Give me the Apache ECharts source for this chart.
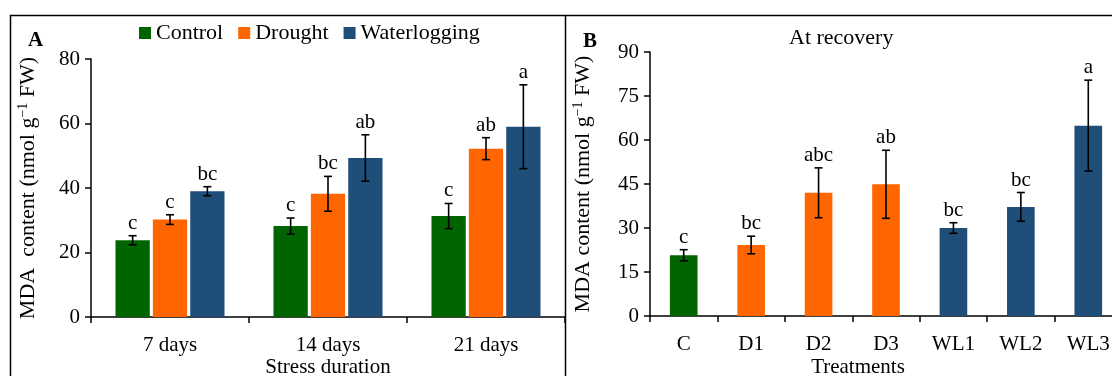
<!DOCTYPE html>
<html><head><meta charset="utf-8">
<script src="https://cdn.jsdelivr.net/npm/echarts@6/dist/echarts.min.js"></script>
<style>html,body{margin:0;padding:0;background:#fff}#c{width:1112px;height:376px}</style>
</head><body><div id="c"></div>
<script>
// ---- Panel A data ----
const durations = ['7 days', '14 days', '21 days'];
const controlVals = [23.8, 28.2, 31.3];
const controlErr = [1.4, 2.5, 3.9];
const controlLetters = ['c', 'c', 'c'];
const droughtVals = [30.2, 38.2, 52.2];
const droughtErr = [1.5, 5.4, 3.4];
const droughtLetters = ['c', 'bc', 'ab'];
const waterVals = [39.0, 49.3, 59.0];
const waterErr = [1.4, 7.2, 13.0];
const waterLetters = ['bc', 'ab', 'a'];
const yAxisA = { min: 0, max: 80, interval: 20 };

// ---- Panel B data ----
const treatments = ['C', 'D1', 'D2', 'D3', 'WL1', 'WL2', 'WL3'];
const treatmentGroups = ['Control', 'Drought', 'Drought', 'Drought', 'Waterlogging', 'Waterlogging', 'Waterlogging'];
const recoveryVals = [20.7, 24.2, 42.0, 44.9, 30.0, 37.2, 64.9];
const recoveryErr = [1.9, 3.0, 8.5, 11.6, 1.8, 4.9, 15.5];
const recoveryLetters = ['c', 'bc', 'abc', 'ab', 'bc', 'bc', 'a'];
const yAxisB = { min: 0, max: 90, interval: 15 };

const colors = { Control: '#006400', Drought: '#FF6600', Waterlogging: '#1F4E79' };
const FONT = '"Liberation Serif", "Times New Roman", serif';

const catGapA = 0.31, barGapA = 0.09;
const catGapB = 0.59;

function errRender(letters, pos, n, catGap, barGap) {
  return function (params, api) {
    const i = api.value(0), v = api.value(1), e = api.value(2);
    const band = api.size([1, 0])[0];
    let offset = 0;
    if (n > 1) {
      const group = band * (1 - catGap);
      const bw = group / (n + (n - 1) * barGap);
      offset = -group / 2 + bw / 2 + pos * bw * (1 + barGap);
    }
    const top = api.coord([i, v + e]);
    const bot = api.coord([i, v - e]);
    const x = top[0] + offset;
    const cap = 4;
    const st = { stroke: '#000', lineWidth: 1.6 };
    return {
      type: 'group',
      children: [
        { type: 'line', shape: { x1: x, y1: top[1], x2: x, y2: bot[1] }, style: st },
        { type: 'line', shape: { x1: x - cap, y1: top[1], x2: x + cap, y2: top[1] }, style: st },
        { type: 'line', shape: { x1: x - cap, y1: bot[1], x2: x + cap, y2: bot[1] }, style: st },
        { type: 'text', style: { text: letters[params.dataIndex], x: x, y: top[1] - 2,
            textAlign: 'center', textVerticalAlign: 'bottom', align: 'center', verticalAlign: 'bottom',
            font: '21px ' + FONT, fill: '#000' } }
      ]
    };
  };
}

function errData(vals, errs) { return vals.map((v, i) => [i, v, errs[i]]); }

const axisLine = { show: true, lineStyle: { color: '#000', width: 1.5 } };
const axisTick = { show: true, length: 6, lineStyle: { color: '#000', width: 1.5 } };
const yName = (txt) => '{n|' + txt + '}{s|−1}{n| FW)}';
const yRich = { n: { fontSize: 22, fontFamily: FONT, color: '#000', lineHeight: 25 },
                s: { fontSize: 14, fontFamily: FONT, color: '#000', verticalAlign: 'top', lineHeight: 25 } };

const chart = echarts.init(document.getElementById('c'));
chart.setOption({
  animation: false,
  textStyle: { fontFamily: FONT },
  legend: {
    data: ['Control', 'Drought', 'Waterlogging'],
    left: 134, top: 17, icon: 'rect', itemWidth: 12, itemHeight: 12, itemGap: 15,
    textStyle: { fontSize: 22, fontFamily: FONT, color: '#000' }
  },
  graphic: [
    { type: 'polyline', shape: { points: [[10.5, 376], [10.5, 15.5], [1112, 15.5]] }, style: { stroke: '#000', lineWidth: 1.5, fill: null } },
    { type: 'line', shape: { x1: 565.5, y1: 15.5, x2: 565.5, y2: 376 }, style: { stroke: '#000', lineWidth: 1.5 } },
    { type: 'text', left: 28, top: 30, style: { text: 'A', font: 'bold 21px ' + FONT, fill: '#000' } },
    { type: 'text', left: 583, top: 31, style: { text: 'B', font: 'bold 21px ' + FONT, fill: '#000' } },
    { type: 'text', left: 789, top: 27, style: { text: 'At recovery', font: '22px ' + FONT, fill: '#000' } }
  ],
  grid: [
    { left: 91, right: 547, top: 59, bottom: 59, containLabel: false, outerBoundsMode: 'none' },
    { left: 650, right: -10, top: 52, bottom: 60, containLabel: false, outerBoundsMode: 'none' }
  ],
  xAxis: [
    { type: 'category', gridIndex: 0, data: durations, axisLine, axisTick,
      axisLabel: { fontSize: 21, fontFamily: FONT, color: '#000', margin: 18 },
      name: 'Stress duration', nameLocation: 'middle', nameGap: 40, nameMoveOverlap: false,
      nameTextStyle: { fontSize: 21, fontFamily: FONT, color: '#000' } },
    { type: 'category', gridIndex: 1, data: treatments, axisLine, axisTick,
      axisLabel: { fontSize: 21, fontFamily: FONT, color: '#000', margin: 18 },
      name: 'Treatments', nameLocation: 'middle', nameGap: 41, nameMoveOverlap: false,
      nameTextStyle: { fontSize: 21, fontFamily: FONT, color: '#000', padding: [0, 56, 0, 0] } }
  ],
  yAxis: [
    { type: 'value', gridIndex: 0, min: yAxisA.min, max: yAxisA.max, interval: yAxisA.interval,
      axisLine, axisTick, splitLine: { show: false },
      axisLabel: { fontSize: 21, fontFamily: FONT, color: '#000', margin: 11 },
      name: yName('MDA  content (nmol g'), nameLocation: 'middle', nameGap: 50, nameMoveOverlap: false,
      nameTextStyle: { rich: yRich } },
    { type: 'value', gridIndex: 1, min: yAxisB.min, max: yAxisB.max, interval: yAxisB.interval,
      axisLine, axisTick, splitLine: { show: false },
      axisLabel: { fontSize: 21, fontFamily: FONT, color: '#000', margin: 11 },
      name: yName('MDA content (nmol g'), nameLocation: 'middle', nameGap: 54, nameMoveOverlap: false,
      nameTextStyle: { rich: yRich } }
  ],
  series: [
    { name: 'Control', type: 'bar', xAxisIndex: 0, yAxisIndex: 0, data: controlVals,
      itemStyle: { color: colors.Control }, barCategoryGap: (catGapA * 100) + '%', barGap: (barGapA * 100) + '%' },
    { name: 'Drought', type: 'bar', xAxisIndex: 0, yAxisIndex: 0, data: droughtVals,
      itemStyle: { color: colors.Drought }, barCategoryGap: (catGapA * 100) + '%', barGap: (barGapA * 100) + '%' },
    { name: 'Waterlogging', type: 'bar', xAxisIndex: 0, yAxisIndex: 0, data: waterVals,
      itemStyle: { color: colors.Waterlogging }, barCategoryGap: (catGapA * 100) + '%', barGap: (barGapA * 100) + '%' },
    { type: 'custom', xAxisIndex: 0, yAxisIndex: 0, data: errData(controlVals, controlErr), z: 5,
      renderItem: errRender(controlLetters, 0, 3, catGapA, barGapA) },
    { type: 'custom', xAxisIndex: 0, yAxisIndex: 0, data: errData(droughtVals, droughtErr), z: 5,
      renderItem: errRender(droughtLetters, 1, 3, catGapA, barGapA) },
    { type: 'custom', xAxisIndex: 0, yAxisIndex: 0, data: errData(waterVals, waterErr), z: 5,
      renderItem: errRender(waterLetters, 2, 3, catGapA, barGapA) },
    { name: 'At recovery', type: 'bar', xAxisIndex: 1, yAxisIndex: 1,
      data: recoveryVals.map((v, i) => ({ value: v, itemStyle: { color: colors[treatmentGroups[i]] } })),
      barCategoryGap: (catGapB * 100) + '%' },
    { type: 'custom', xAxisIndex: 1, yAxisIndex: 1, data: errData(recoveryVals, recoveryErr), z: 5,
      renderItem: errRender(recoveryLetters, 0, 1, catGapB, 0) }
  ]
});
</script>
</body></html>
